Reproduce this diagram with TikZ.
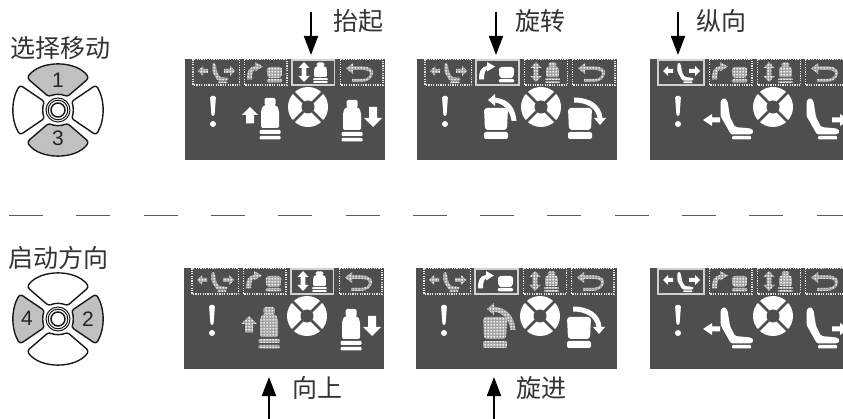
\documentclass[tikz,border=0pt]{standalone}
\usepackage{fontspec}
\setmainfont{Liberation Sans}
\newfontfamily\cjk{Noto Sans CJK SC}
\usetikzlibrary{arrows.meta,patterns}
\definecolor{panelbg}{HTML}{4E4E4E}
\definecolor{keygrey}{HTML}{C0C0C0}
\definecolor{labelink}{HTML}{333333}
\definecolor{dashgrey}{HTML}{5A5A5A}
\definecolor{dotunder}{HTML}{A2A2A2}
\pgfdeclarepatternformonly{icondots}{\pgfpointorigin}{\pgfqpoint{2.6pt}{2.6pt}}{\pgfqpoint{2.6pt}{2.6pt}}{%
  \pgfpathcircle{\pgfqpoint{1.3pt}{1.3pt}}{1.05pt}\pgfusepath{fill}}
\tikzset{
  solidicon/.style={fill=white,draw=none},
  dotsicon/.style={preaction={fill=dotunder},pattern=icondots,pattern color=white,draw=none},
  selframe/.style={draw=white!82!black,line width=1.3pt},
  dotframe/.style={draw=white!90!black,line width=1.2pt,dash pattern=on 1.2pt off 1.2pt},
  lbl/.style={inner sep=0pt,font=\cjk\fontsize{25}{25}\selectfont,text=labelink},
  keylabel/.style={inner sep=0pt,font=\fontsize{21}{21}\selectfont,text=black!85},
  pointer/.style={line width=1.8pt,-{Triangle[width=14pt,length=19pt]}},
  keyshape/.style={draw=black!90,line width=1.4pt,line join=round},
  cutline/.style={draw=dashgrey,line width=1.4pt,dash pattern=on 34pt off 33.3pt},
}
% ---------- icon parts, in panel-local pixels ----------
\newcommand{\seatfrontshape}[1]{%
  \path[#1,rounded corners=1.5pt] (-5.5,0) rectangle (5.5,7.5);
  \path[#1,rounded corners=2pt] (-6.5,7) -- (6.5,7) -- (9,12) -- (9,30) -- (-9,30) -- (-9,12) -- cycle;
  \path[#1,rounded corners=1pt] (-10.5,32) rectangle (10.5,36);
  \path[#1,rounded corners=1pt] (-10.5,38) rectangle (10.5,41.5);}
\newcommand{\seatfront}[4]{\begin{scope}[shift={(#1,#2)},xscale=#3,yscale=#3]\seatfrontshape{#4}\end{scope}}
\newcommand{\seatsmallfront}[3]{\begin{scope}[shift={(#1,#2)},xscale=.72,yscale=.49]\seatfrontshape{#3}\end{scope}}
\newcommand{\seattopshape}[1]{%
  \path[#1,rounded corners=3pt] (-12,0) -- (12,0) -- (11,22) -- (-11,22) -- cycle;
  \path[#1,rounded corners=2pt] (-12,24) rectangle (12,31);}
\newcommand{\seattop}[3]{\begin{scope}[shift={(#1,#2)}]\seattopshape{#3}\end{scope}}
\newcommand{\seatsideshape}[1]{%
  \path[#1,rounded corners=1.5pt] (70.5,42) -- (74,38.5) -- (77.5,42) -- (80,58) -- (85,68) -- (101,69.5) -- (104,72.5) -- (101,75.5) -- (81,75.5) -- (70.5,57) -- cycle;
  \path[#1,rounded corners=1pt] (82,77) rectangle (101,80.5);}
\newcommand{\seatside}[2]{\begin{scope}[xshift=#1]\seatsideshape{#2}\end{scope}}
\newcommand{\exclaim}{%
  \path[solidicon,rounded corners=1.5pt] (25,37) -- (31,37) -- (29.5,57) -- (26.5,57) -- cycle;
  \path[solidicon] (28,65) circle (3);}
\newcommand{\buoy}[1]{%
  \begin{scope}[shift={(#1,48)}]
  \path[solidicon] (0,0) circle (20);
  \draw[panelbg,line width=2.6pt] (-15,-15) -- (15,15) (-15,15) -- (15,-15);
  \path[fill=panelbg] (0,0) circle (6.5);
  \end{scope}}
% ---------- tabs ----------
\newcommand{\tabseatarrows}[1]{%
  \path[#1] (13,12) -- (18,7) -- (18,10) -- (23,10) -- (23,14) -- (18,14) -- (18,17) -- cycle;
  \path[#1] (50,12) -- (45,7) -- (45,10) -- (39,10) -- (39,14) -- (45,14) -- (45,17) -- cycle;
  \begin{scope}[shift={(-8,-16)},scale=.5]\seatsideshape{#1}\end{scope}}
\newcommand{\tabrotate}[1]{%
  \path[#1] (62,20.5) .. controls (62,12) and (64,8) .. (70,7) -- (70,3) -- (78,7.5) -- (70,12.5) -- (70,10.5) .. controls (68,11) and (67,15) .. (67,20.5) -- cycle;
  \begin{scope}[shift={(89.5,8)},xscale=.65,yscale=.5]\seattopshape{#1}\end{scope}}
\newcommand{\tablift}[1]{%
  \path[#1] (119,3) -- (124.5,9) -- (121.3,9) -- (121.3,17) -- (124.5,17) -- (119,23) -- (113.5,17) -- (116.7,17) -- (116.7,9) -- (113.5,9) -- cycle;
  \seatsmallfront{135.5}{3.5}{#1}}
\newcommand{\tabback}[1]{%
  \path[#1] (161,9.5) -- (168,4) -- (168,7.5) -- (178,7.5) .. controls (186,7.5) and (189,12) .. (188,15) .. controls (187,20) and (182,23) .. (176,23) -- (167,23) -- (167,20) -- (176,20) .. controls (181,20) and (185,18) .. (185,15) .. controls (185,12) and (182,11) .. (178,11) -- (168,11) -- (168,15) -- cycle;}
% #1 selected tab number
\newcommand{\tabrow}[1]{%
  \ifnum#1=1 \draw[selframe] (8,1) rectangle (54,26); \tabseatarrows{solidicon}
  \else \draw[dotframe] (8,0.5) rectangle (54.5,26); \tabseatarrows{dotsicon}\fi
  \ifnum#1=2 \draw[selframe] (59,1) rectangle (102,26); \tabrotate{solidicon}
  \else \draw[dotframe] (59.5,0.5) rectangle (102,26); \tabrotate{dotsicon}\fi
  \ifnum#1=3 \draw[selframe] (107,1) rectangle (149.5,26); \tablift{solidicon}
  \else \draw[dotframe] (107.5,0.5) rectangle (150.5,26); \tablift{dotsicon}\fi
  \draw[dotframe] (155.5,0.5) rectangle (198,26); \tabback{dotsicon}}
% ---------- body icons ----------
\newcommand{\arrowup}[1]{\path[#1] (65,48) -- (73,56) -- (69,56) -- (69,64.5) -- (61,64.5) -- (61,56) -- (57,56) -- cycle;}
\newcommand{\arrowdown}{\path[solidicon] (188,68) -- (197,59) -- (192,59) -- (192,48) -- (184,48) -- (184,59) -- (179,59) -- cycle;}
\newcommand{\arcleft}[1]{\path[#1] (99.5,62) .. controls (98,48) and (92,40.5) .. (78,38.5) -- (78,35) -- (71,41) -- (78,47) -- (78,43.5) .. controls (87,45) and (93,51) .. (94.5,62) -- cycle;}
\newcommand{\arcright}{\path[solidicon] (157,38.5) .. controls (172,38.5) and (184,45) .. (185.5,59) -- (189,59) -- (183,66) -- (177,59) -- (180.5,59) .. controls (179,49) and (170,43.5) .. (157,43.5) -- cycle;}
\newcommand{\arrowleft}{\path[solidicon] (53,61) -- (62,55) -- (62,58.5) -- (70,58.5) -- (70,63.5) -- (62,63.5) -- (62,67) -- cycle;}
\newcommand{\arrowright}{\path[solidicon] (182,58.5) -- (190,58.5) -- (190,55) -- (199,61) -- (190,67) -- (190,63.5) -- (182,63.5) -- cycle;}
% #1 x, #2 y, #3 width
\newcommand{\panelbase}[3]{\path[fill=panelbg] (#1,#2) rectangle ++(#3,101);}
% ---------- key pad ----------
\newcommand{\keypad}[4]{%
  \begin{scope}[shift={(#1,#2)}]
  \path[keyshape,fill=#3,rounded corners=3pt] (-31,-32) .. controls (-18,-50) and (18,-50) .. (31,-32) -- (9,-13) .. controls (4,-16) and (-4,-16) .. (-9,-13) -- cycle;
  \path[keyshape,fill=#3,rounded corners=3pt] (-31,32) .. controls (-18,50) and (18,50) .. (31,32) -- (9,13) .. controls (4,16) and (-4,16) .. (-9,13) -- cycle;
  \path[keyshape,fill=#4,rounded corners=3pt] (-38,-25) .. controls (-47,-10) and (-47,10) .. (-38,25) -- (-13,8) .. controls (-15.5,4) and (-15.5,-4) .. (-13,-8) -- cycle;
  \path[keyshape,fill=#4,rounded corners=3pt] (38,-25) .. controls (47,-10) and (47,10) .. (38,25) -- (13,8) .. controls (15.5,4) and (15.5,-4) .. (13,-8) -- cycle;
  \draw[black!90,line width=1pt,fill=white] (0,0) circle (12);
  \draw[black!90,line width=1pt] (0,0) circle (9.8);
  \draw[black!90,line width=1.5pt] (0,0) circle (7);
  \end{scope}}
\begin{document}
\begin{tikzpicture}[x=1pt,y=-1pt]
\clip (0,0) rectangle (843,419);
\path[fill=white] (0,0) rectangle (843,419);
% panels
\panelbase{185}{59}{200}
\begin{scope}[shift={(185,59)}]\tabrow{3}\exclaim\buoy{123}\arrowup{solidicon}\seatfront{85}{39}{1}{solidicon}\seatfront{167}{41}{1}{solidicon}\arrowdown\end{scope}
\panelbase{417}{59}{200}
\begin{scope}[shift={(417,59)}]\tabrow{2}\exclaim\buoy{124}\arcleft{solidicon}\seattop{79}{49}{solidicon}\arcright\seattop{163}{49}{solidicon}\end{scope}
\panelbase{650}{59}{193}
\begin{scope}[shift={(650,59)}]\tabrow{1}\exclaim\buoy{123}\arrowleft\seatside{0pt}{solidicon}\seatside{86pt}{solidicon}\arrowright\end{scope}
\panelbase{184}{268}{200}
\begin{scope}[shift={(184,268)}]\tabrow{3}\exclaim\buoy{123}\arrowup{dotsicon}\seatfront{85}{39}{1}{dotsicon}\seatfront{167}{41}{1}{solidicon}\arrowdown\end{scope}
\panelbase{416}{268}{201}
\begin{scope}[shift={(416,268)}]\tabrow{2}\exclaim\buoy{124}\arcleft{dotsicon}\seattop{79}{49}{dotsicon}\arcright\seattop{163}{49}{solidicon}\end{scope}
\panelbase{650}{268}{193}
\begin{scope}[shift={(650,268)}]\tabrow{1}\exclaim\buoy{123}\arrowleft\seatside{0pt}{solidicon}\seatside{86pt}{solidicon}\arrowright\end{scope}
% key pads
\keypad{58}{110}{keygrey}{white}
\keypad{58}{319}{white}{keygrey}
\node[keylabel] (k1) at (58,80) {1};
\node[keylabel] (k3) at (58,138) {3};
\node[keylabel] (k4) at (27,318) {4};
\node[keylabel] (k2) at (88,319) {2};
% labels
\node[lbl] (t1) at (60,48) {选择移动};
\node[lbl] (t2) at (59,258) {启动方向};
\node[lbl] (a1) at (358.5,21) {抬起};
\node[lbl] (a2) at (540.5,21) {旋转};
\node[lbl] (a3) at (721.5,21) {纵向};
\node[lbl] (b1) at (317.5,388) {向上};
\node[lbl] (b2) at (541.5,388) {旋进};
% pointers
\coordinate (p1s) at (311,12); \coordinate (p1e) at (311,55);
\coordinate (p2s) at (496,12); \coordinate (p2e) at (496,55);
\coordinate (p3s) at (678,12); \coordinate (p3e) at (678,55);
\coordinate (q1s) at (269,419); \coordinate (q1e) at (269,377);
\coordinate (q2s) at (494,419); \coordinate (q2e) at (494,377);
\draw[pointer] (p1s) -- (p1e);
\draw[pointer] (p2s) -- (p2e);
\draw[pointer] (p3s) -- (p3e);
\draw[pointer] (q1s) -- (q1e);
\draw[pointer] (q2s) -- (q2e);
% cut line
\coordinate (c1) at (9,215.7); \coordinate (c2) at (843,215.7);
\draw[cutline] (c1) -- (c2);
\end{tikzpicture}
\end{document}
